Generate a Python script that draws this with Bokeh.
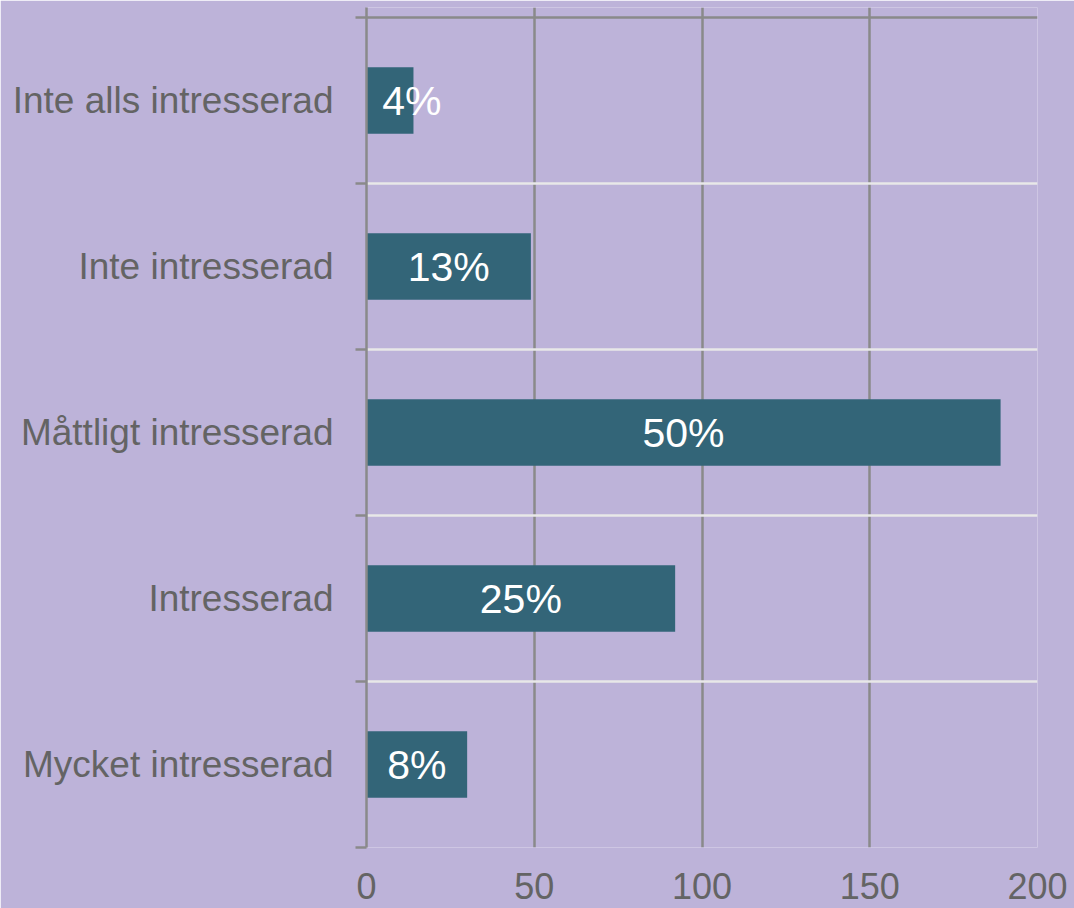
import numpy as np
from bokeh.plotting import figure
from bokeh.models import Range1d, FixedTicker, Grid, ColumnDataSource
from bokeh.core.properties import value
from bokeh.embed import file_html
from bokeh.resources import INLINE

# ---- data (top to bottom) ----
categories = ["Inte alls intresserad", "Inte intresserad", "Måttligt intresserad",
              "Intresserad", "Mycket intresserad"]
counts = [14, 49, 189, 92, 30]
pct_labels = ["4%", "13%", "50%", "25%", "8%"]
x_ticks = [0, 50, 100, 150, 200]

BG = "#BDB3D9"
BAR = "#336578"
GRAY = "#8A8A8A"
SEP = "#E8E8E8"
TXT = "#646464"
FONT = "Liberation Sans"

n = len(categories)
centers = [n - i - 0.5 for i in range(n)]
bounds = list(range(n + 1))

p = figure(output_backend="svg", toolbar_location=None,
           x_range=Range1d(0, 200), y_range=Range1d(0, n + 10 / 166))
p.frame_width = 671
p.frame_height = 840
p.min_border_left = 366
p.min_border_right = 37
p.min_border_top = 7
p.min_border_bottom = 61
p.background_fill_color = BG
p.border_fill_color = BG
p.outline_line_color = None

# grids
p.xgrid.ticker = FixedTicker(ticks=x_ticks)
p.xgrid.grid_line_color = GRAY
p.xgrid.grid_line_width = 2.5
p.ygrid.ticker = FixedTicker(ticks=bounds[:-1])
p.ygrid.grid_line_color = SEP
p.ygrid.grid_line_width = 2.5
top_grid = Grid(dimension=1, ticker=FixedTicker(ticks=[bounds[-1]]),
                grid_line_color=GRAY, grid_line_width=2.5)
p.add_layout(top_grid)

# bars
src = ColumnDataSource(dict(
    y=centers, right=counts, lab=pct_labels,
    lx=np.maximum(np.array(counts) / 2, 13.5),
))
p.hbar(y="y", left=0, right="right", height=0.4, source=src,
       fill_color=BAR, line_color=None)
p.text(x="lx", y="y", text="lab", source=src, text_color="white",
       text_font=value(FONT), text_font_size="41px",
       text_align="center", text_baseline="middle")

# y axis
ya = p.yaxis[0]
ya.ticker = FixedTicker(ticks=centers, minor_ticks=bounds)
ya.major_label_overrides = {c: lab for c, lab in zip(centers, categories)}
ya.major_tick_out = 0
ya.major_tick_in = 0
ya.minor_tick_out = 11
ya.minor_tick_in = 0
ya.minor_tick_line_color = GRAY
ya.minor_tick_line_width = 2.5
ya.axis_line_color = GRAY
ya.axis_line_width = 2.5
ya.major_label_standoff = 22
ya.major_label_text_font = FONT
ya.major_label_text_font_size = "37px"
ya.major_label_text_color = TXT

# x axis
xa = p.xaxis[0]
xa.ticker = FixedTicker(ticks=x_ticks)
xa.axis_line_color = None
xa.major_tick_line_color = None
xa.minor_tick_line_color = None
xa.major_tick_out = 0
xa.major_tick_in = 0
xa.major_label_standoff = 25
xa.major_label_text_font = FONT
xa.major_label_text_font_size = "36px"
xa.major_label_text_line_height = 0.8
xa.major_label_text_color = TXT

open("out.html", "w").write(file_html(p, INLINE))
